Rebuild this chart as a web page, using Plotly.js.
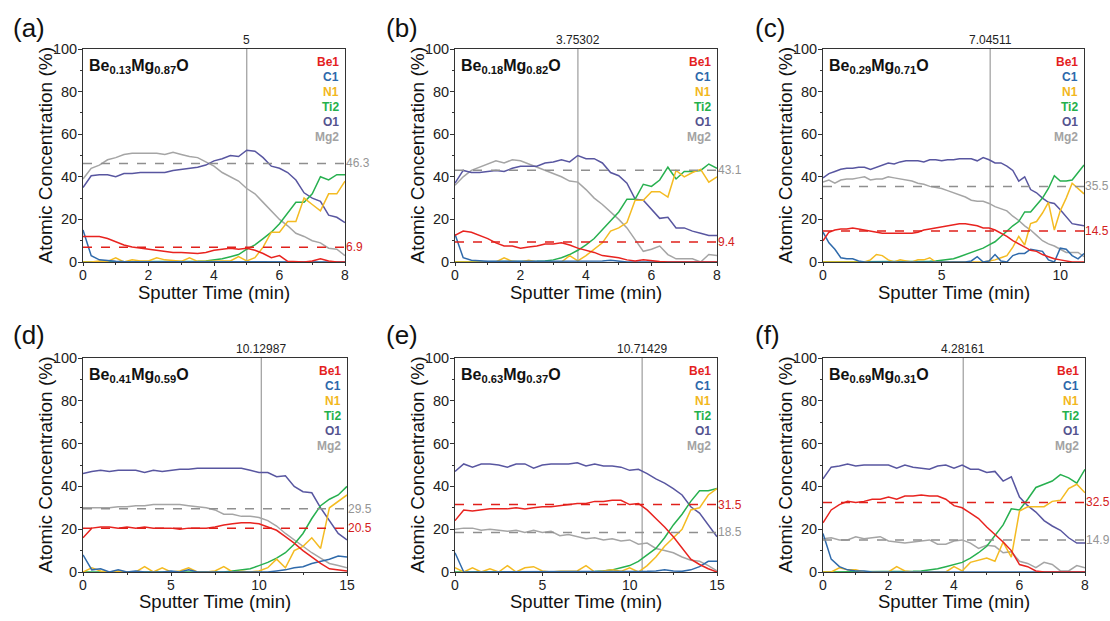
<!DOCTYPE html>
<html>
<head>
<meta charset="utf-8">
<script src="https://cdn.plot.ly/plotly-3.0.1.min.js"></script>
<style>html,body{margin:0;padding:0;background:#fff}#chart{width:1110px;height:621px}</style>
</head>
<body>
<div id="chart"></div>
<script>
// ---------- sample times (min) ----------
const t8 = [0,0.25,0.5,0.75,1,1.25,1.5,1.75,2,2.25,2.5,2.75,3,3.25,3.5,3.75,4,4.25,4.5,4.75,5,5.25,5.5,5.75,6,6.25,6.5,6.75,7,7.25,7.5,7.75,8];
const t11 = [0,0.25,0.5,0.75,1,1.25,1.5,1.75,2,2.25,2.5,2.75,3,3.25,3.5,3.75,4,4.25,4.5,4.75,5,5.25,5.5,5.75,6,6.25,6.5,6.75,7,7.25,7.5,7.75,8,8.25,8.5,8.75,9,9.25,9.5,9.75,10,10.25,10.5,10.75,11];
const t15 = [0,0.5,1,1.5,2,2.5,3,3.5,4,4.5,5,5.5,6,6.5,7,7.5,8,8.5,9,9.5,10,10.5,11,11.5,12,12.5,13,13.5,14,14.5,15];

// ---------- series names ----------
const seriesNames = ['Be1','C1','N1','Ti2','O1','Mg2'];

// ---------- panel (a) Be0.13Mg0.87O ----------
const Be1_a = [12,12,12,11,9.5,8,7,6.5,6,5.5,5,4.5,4.5,4.3,4,4.5,5.5,6,6.5,6,6.5,5.5,4,2,3,0.3,0,0,0.5,1.5,0.5,0,0];
const C1_a  = [15,3,1,0.5,0.3,0.2,0.2,0.2,0.2,0.2,0.2,0.2,0.2,0.2,0.2,0.2,0.2,0.2,0.2,0.2,0.2,0.2,0.2,0.2,0.2,0,0,0,0,0,0,0,0];
const N1_a  = [0,0,0.5,0.3,2,0,1,0.5,0.5,2,1,0.5,0.3,2,0.3,0.3,0.5,0.5,0.5,2.5,0.5,2,7,14,14,19,19,30,27,24,32,32,38];
const Ti2_a = [0,0,0,0,0,0,0,0,0,0,0,0,0,0.2,0.3,0.5,1,1.5,2.5,3.5,6,8,11,14,18,23,28,28,32,40,38.5,41,41];
const O1_a  = [35,40.5,41,41,40,41.5,41.5,42,42,42,42,43,43.5,44,44.5,45.5,47.5,48.5,50,49.5,52.5,52,49,45,44,42,38.5,32.5,30,28.5,22,21,18.5];
const Mg2_a = [39,44,45.5,48,49,50.5,51,51,51,51,50.5,51.5,50.5,49.5,49,47,45,42,40,38,34.5,32,28,24,20,17,13.5,12,10,9,6.5,6,3];

// ---------- panel (b) Be0.18Mg0.82O ----------
const Be1_b = [12.5,14.5,14,12.5,11,9,7.5,7.5,6.5,7,7.5,8.5,8.5,9,8,6.5,5.5,4.5,3,2.5,2,1,0.5,1,0.5,0.2,0,0,0,0,0,0,0];
const C1_b  = [13,2,0.8,0.5,0.3,0.3,0.3,0.3,0.3,0.3,0.3,0.3,0.3,0.3,0.3,0.3,0.3,0.3,0.5,0.8,0.3,0,0,0,0,0,0,0,0,0,0,0,0];
const N1_b  = [0,0,0,0,0,0,2,0.3,0,0.8,0,0,0,0,3,0.5,3,6,9,14.5,16,18.5,29,29,33,33,30.5,43,40,42,43.5,37.5,40];
const Ti2_b = [0,0,0,0,0,0,0,0,0,0,0.3,0.5,1,2,3.5,5.5,8,11,15,19,23.5,29.5,29.5,36.5,35.5,38.5,44.5,39,42.5,42.5,43,46,44];
const O1_b  = [37,43,42,42,42.5,43,42.5,44,45,45,45,46.5,47,48,47,50,48.5,48.5,46.5,42,40.5,37,29.5,29,24.5,20.5,21,16,16,14.5,13.5,12.5,12.5];
const Mg2_b = [36,40,43,44.5,46,47.5,46.5,48,47.5,46,44.5,43,41.5,40,38,37.5,34,30,27,23.5,20,16,10.5,5,6,7.5,3.5,1.5,1.5,1.5,0,3.5,3];

// ---------- panel (c) Be0.29Mg0.71O ----------
const Be1_c = [10,14,15,15.5,15.5,16,15.5,15,14.5,14,13.5,13.5,13.5,13.5,13.5,13.5,14,15,15.5,16,16.5,17,17.5,18,18,17.5,17,16,16,15,13.5,12,10,8.5,7,5.5,5,3.5,2.5,1.5,1,0.5,0,0,0];
const C1_c  = [14,9,6,2,1.5,1.5,0.5,0,0,0,0,0,0,0,0,0,0,0,0,0,0,0,0,0.3,0,0.5,2.5,0,0.5,3.5,0.5,0,3,4,4,6,5.5,5,1,0,6.5,6,3,1.5,4];
const N1_c  = [0,0,0,0,0,0,0,0,1,3.5,3,1,0,1,0.5,0,1,1,2,0,0,0,0,0,0,0,0,0,0.5,1,2,3,7,12,8,18,19,23,28,15,24,30,37,34.5,32];
const Ti2_c = [0,0,0,0,0,0,0,0,0,0,0,0,0,0,0,0,0,0.2,0.3,0.5,0.8,1,1.5,2.5,3.5,4.5,5.5,6.5,8,9.5,12,14.5,17,19,23.5,23.5,27,30,34.5,40.5,38,38,38.5,42,45.5];
const O1_c  = [39.5,41.5,42.5,43.5,44,44,44.5,44.5,43.5,44.5,45.5,46.5,46,47,47.5,47.5,47.5,47,48,48,47.5,48,48,48.5,48.5,48.5,47.5,49,48,46.5,46.5,45,43,38,40,34,32.5,30,28,27.5,24.5,21,18,17.5,17];
const Mg2_c = [37.5,38.5,37,38.5,39,39,39.5,40,38.5,39,39,40,39.5,39,38.5,38,37,36.5,35.5,35,34.5,33.5,32.5,31.5,30.5,29,28.5,28.5,27.5,26,25,24,21.5,19.5,17,15,12.5,10,8.5,7.5,6,4.5,4.5,4.5,2.5];

// ---------- panel (d) Be0.41Mg0.59O ----------
const Be1_d = [16,20.5,21,21,20.5,21,20.5,21,20.5,20.5,20.5,20,20.5,20.5,20.5,21,22,22.5,23,23,22.5,21,19.5,16.5,13.5,10,7,4,1.5,1,0.5];
const C1_d  = [8,1,1.5,0,1,0,0.5,0,0,0,0.5,0,1,0,0,0,0,0,0,0,0,0,0.5,1,2,2.5,4,5,6,7.5,7];
const N1_d  = [0,2,0.5,0,0.5,0,0,2.5,0,2,0,0.5,2,0,0,0.5,2.5,0,0.3,0,0.5,2,6,2,10,12,16,11,30,33,36];
const Ti2_d = [0,0,0,0,0,0,0,0,0,0,0,0,0,0,0,0,0,0.5,1,1.5,3,4.5,6.5,9,13,18,25,31,34,36,40];
const O1_d  = [46,47,47.5,47,47.5,47.5,47.5,46.5,47.5,47,47.5,48,48,48.5,48.5,48.5,48.5,48.5,48.5,47.5,46.5,46.5,44.5,45,40,37.5,37,30,24,18,15];
const Mg2_d = [30,30,30,30,30.5,30.5,31,31,31.5,31.5,31.5,31.5,31,30.5,30,29,27,27,26,26,25.5,24,21.5,18,15,12,9,6.5,4,3,2];

// ---------- panel (e) Be0.63Mg0.37O ----------
const Be1_e = [24,29,28.5,29,29.5,29.5,29.5,30,29.5,30,30.5,30.5,31,31.5,32,32,33,33,33.5,33.5,31.5,32,29,25,21,16.5,11.5,6,3.5,1.5,0];
const C1_e  = [9,0,0,0,0,0,0,0,0,0,0,0,0,0,0,0,0,0,0,0,0,0,0.3,0.5,1,0.5,0.3,1,2.5,5,5];
const N1_e  = [2,0,2,0,1.5,0,3,0,2,2.5,0.5,0,0.3,0.5,0.5,3,0,0.5,1,0.3,2,0,3,7,12,16,20,29,30,36,39];
const Ti2_e = [0,0,0,0,0,0,0,0,0,0,0,0,0,0,0,0,0.2,0.5,1,2,3,5,8,11,16,22,27,33,38,38,39];
const O1_e  = [47,50.5,49,50.5,50.5,50,49,50.5,50.5,48.5,50,50.5,50.5,50.5,51,49.5,50.5,49.5,49.5,49,47.5,48,46,43.5,41.5,39,36,30.5,27.5,22,16.5];
const Mg2_e = [20,20.5,20.5,19.5,20,19.5,19,19.5,18.5,19.5,18.5,19,17,17.5,16.5,15.5,16,15,15.5,14.5,15,13,13.5,11,10,9,7,5.5,5,3,0.5];

// ---------- panel (f) Be0.69Mg0.31O ----------
const Be1_f = [23,29,31.5,33,32.5,33,34,34,35,34,35.5,35.5,36,35.5,35.5,34,31,30,27.5,25,21,17.5,14,10,3.5,2.5,0.5,0,0,0,0,0,0];
const C1_f  = [18,6,2.5,1,0.5,0.5,0,0,0,0,0,0,0,0,0,0,0,0,0,0,0,0.3,0,0,0,0,0,0,0,0,0,0,0];
const N1_f  = [0,0,2,1,1,0,0,0,0,2.5,0.5,0,0,0,0,0,2.5,0.5,4.5,5.5,6.5,5,14,7,28.5,30.5,30.5,30.5,33,33.5,39,41,37];
const Ti2_f = [0,0,0,0,0,0,0,0,0,0,0.2,0.3,0.5,1,1.5,2.5,3.5,4.5,6.5,9,12,17,22,29.5,29,34,39.5,41,42.5,45.5,44,41.5,48];
const O1_f  = [43.5,49,49.5,50.5,49.5,50,50,50,50,48.5,50,49,48.5,48,49.5,50,48.5,50,48,48,46.5,47,42.5,44.5,35,31,28,24,21.5,19.5,16,13.5,13.5];
const Mg2_f = [15.5,16,15,15,16.5,15.5,16,16.5,14.5,14,13.5,14,14.5,15,13,13,14.5,15,13.5,11,12.5,12,9,9.5,5,4,2,4.5,3.5,0.5,0.5,3,2];

// ---------- panel meta ----------
const panelLetters = ['(a)','(b)','(c)','(d)','(e)','(f)'];
const formulaBe = ['0.13','0.18','0.29','0.41','0.63','0.69'];
const formulaMg = ['0.87','0.82','0.71','0.59','0.37','0.31'];
const markerTime = [5, 3.75302, 7.04511, 10.12987, 10.71429, 4.28161];
const beLevel = [6.9, 9.4, 14.5, 20.5, 31.5, 32.5];
const mgLevel = [46.3, 43.1, 35.5, 29.5, 18.5, 14.9];
const xMax = [8, 8, 11, 15, 15, 8];
const xDtick = [2, 2, 5, 5, 5, 2];
const panelTimes = [t8, t8, t11, t15, t15, t8];
const panelData = [
  [Be1_a, C1_a, N1_a, Ti2_a, O1_a, Mg2_a],
  [Be1_b, C1_b, N1_b, Ti2_b, O1_b, Mg2_b],
  [Be1_c, C1_c, N1_c, Ti2_c, O1_c, Mg2_c],
  [Be1_d, C1_d, N1_d, Ti2_d, O1_d, Mg2_d],
  [Be1_e, C1_e, N1_e, Ti2_e, O1_e, Mg2_e],
  [Be1_f, C1_f, N1_f, Ti2_f, O1_f, Mg2_f]
];

// ---------- styling ----------
const W = 1110, H = 621;
const FONT = 'Liberation Sans, Arial, Helvetica, sans-serif';
const lineColors = ['#e8231f', '#2f6aab', '#f4bb22', '#27b04f', '#5856a0', '#a5a5a5'];
const labelColors = ['#e41f1f', '#2e68aa', '#f2b71c', '#25b04c', '#55538f', '#a3a3a3'];
const drawOrder = [5, 4, 3, 2, 1, 0];
// plot area boxes in pixels [left, right, top, bottom]
const boxes = [
  [83, 345, 49, 262], [455, 717, 49, 262], [823, 1084, 49, 262],
  [83, 347, 358, 572], [455, 717, 358, 572], [823, 1085, 358, 572]
];
const letterPos = [[11, 28], [384, 28], [753, 28], [11, 335], [384, 335], [753, 335]];
const xTitleGap = [30, 30, 30, 29, 29, 29];

const px = v => v / W;
const py = v => 1 - v / H;

const traces = [];
const layout = {
  width: W, height: H,
  margin: {l: 0, r: 0, t: 0, b: 0},
  paper_bgcolor: '#fff', plot_bgcolor: '#fff',
  showlegend: false,
  font: {family: FONT, color: '#222'},
  shapes: [], annotations: []
};

for (let p = 0; p < 6; p++) {
  const n = p + 1;
  const xa = 'x' + n, ya = 'y' + n;
  const [L, R, T, B] = boxes[p];
  for (const s of drawOrder) {
    traces.push({
      x: panelTimes[p], y: panelData[p][s], xaxis: xa, yaxis: ya,
      type: 'scatter', mode: 'lines', name: seriesNames[s],
      line: {color: lineColors[s], width: 1.5}, hoverinfo: 'skip'
    });
  }
  layout['xaxis' + n] = {
    domain: [px(L), px(R)], anchor: ya, range: [0, xMax[p]],
    dtick: xDtick[p], tick0: 0, ticks: 'outside', ticklen: 3, tickwidth: 1, tickcolor: '#333',
    minor: {ticks: 'outside', ticklen: 2, dtick: xDtick[p] / 2, tickcolor: '#333'},
    showline: true, mirror: true, linecolor: '#333', linewidth: 1,
    showgrid: false, zeroline: false, ticklabelstandoff: -3,
    tickfont: {size: 14, family: FONT, color: '#222'}
  };
  layout['yaxis' + n] = {
    domain: [py(B), py(T)], anchor: xa, range: [0, 100],
    dtick: 20, tick0: 0, ticks: 'outside', ticklen: 4, tickwidth: 1, tickcolor: '#333',
    minor: {ticks: 'outside', ticklen: 2, dtick: 10, tickcolor: '#333'},
    showline: true, mirror: true, linecolor: '#333', linewidth: 1,
    showgrid: false, zeroline: false, ticklabelstandoff: -2,
    tickfont: {size: 14.5, family: FONT, color: '#222'}
  };
  // vertical marker line
  layout.shapes.push({type: 'line', xref: xa, yref: ya + ' domain', x0: markerTime[p], x1: markerTime[p], y0: 0, y1: 1,
    line: {color: '#9c9c9c', width: 1.2}, layer: 'below'});
  // dashed levels
  layout.shapes.push({type: 'line', xref: xa + ' domain', yref: ya, x0: 0, x1: 1, y0: mgLevel[p], y1: mgLevel[p],
    line: {color: '#8f8f8f', width: 1.5, dash: 'dash'}, layer: 'above'});
  layout.shapes.push({type: 'line', xref: xa + ' domain', yref: ya, x0: 0, x1: 1, y0: beLevel[p], y1: beLevel[p],
    line: {color: '#e0201b', width: 1.5, dash: 'dash'}, layer: 'above'});
  // marker label
  layout.annotations.push({xref: xa, yref: ya + ' domain', x: markerTime[p], y: 1, yanchor: 'bottom', yshift: 0,
    text: String(markerTime[p]), showarrow: false, font: {size: 12, color: '#222', family: FONT}});
  // level labels
  layout.annotations.push({xref: xa + ' domain', yref: ya, x: 1, y: mgLevel[p], xanchor: 'left', xshift: -1,
    text: String(mgLevel[p]), showarrow: false, font: {size: 12, color: '#959595', family: FONT}});
  layout.annotations.push({xref: xa + ' domain', yref: ya, x: 1, y: beLevel[p], xanchor: 'left', xshift: -1,
    text: String(beLevel[p]), showarrow: false, font: {size: 12, color: '#d42020', family: FONT}});
  // formula
  layout.annotations.push({xref: xa + ' domain', yref: ya + ' domain', x: 0, y: 1, xanchor: 'left', yanchor: 'top',
    xshift: 4, yshift: -6,
    text: '<b>Be<sub>' + formulaBe[p] + '</sub>Mg<sub>' + formulaMg[p] + '</sub>O</b>',
    showarrow: false, font: {size: 16, color: '#111', family: FONT}});
  // legend text
  for (let s = 0; s < 6; s++) {
    layout.annotations.push({xref: xa + ' domain', yref: ya + ' domain', x: 1, y: 1, xanchor: 'right', yanchor: 'middle',
      xshift: -4, yshift: -(13 + 14.9 * s),
      text: '<b>' + seriesNames[s] + '</b>', showarrow: false,
      font: {size: 12, color: labelColors[s], family: FONT}});
  }
  // axis titles
  layout.annotations.push({xref: 'paper', yref: 'paper', x: px(L - 38), y: py((T + B) / 2), textangle: -90,
    xanchor: 'center', yanchor: 'middle', text: 'Atomic Concentration (%)', showarrow: false,
    font: {size: 19, color: '#111', family: FONT}});
  layout.annotations.push({xref: 'paper', yref: 'paper', x: px((L + R) / 2), y: py(B + xTitleGap[p]),
    xanchor: 'center', yanchor: 'middle', text: 'Sputter Time (min)', showarrow: false,
    font: {size: 18.5, color: '#111', family: FONT}});
  // panel letter
  layout.annotations.push({xref: 'paper', yref: 'paper', x: px(letterPos[p][0]), y: py(letterPos[p][1]),
    xanchor: 'left', yanchor: 'middle', text: panelLetters[p], showarrow: false,
    font: {size: 26, color: '#111', family: FONT}});
}

Plotly.newPlot('chart', traces, layout, {staticPlot: true, displayModeBar: false});
</script>
</body>
</html>
